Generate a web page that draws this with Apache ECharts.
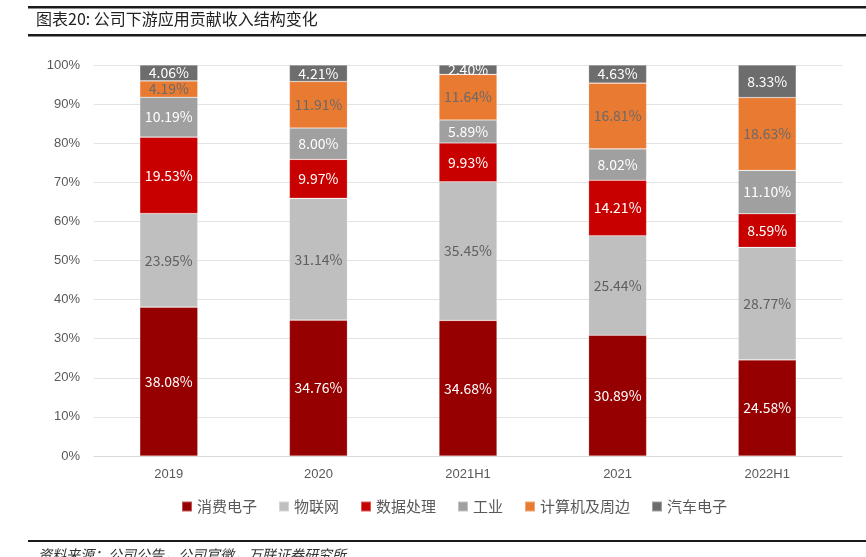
<!DOCTYPE html>
<html><head><meta charset="utf-8">
<script src="https://cdn.jsdelivr.net/npm/echarts@6/dist/echarts.min.js"></script>
<style>html,body{margin:0;padding:0;background:#fff}#c{width:866px;height:557px}</style>
</head><body><div id="c"></div>
<script>
var categories = ['2019', '2020', '2021H1', '2021', '2022H1'];
var seriesNames = ['消费电子', '物联网', '数据处理', '工业', '计算机及周边', '汽车电子'];
var consumer = [38.08, 34.76, 34.68, 30.89, 24.58];
var iot = [23.95, 31.14, 35.45, 25.44, 28.77];
var dataProc = [19.53, 9.97, 9.93, 14.21, 8.59];
var industry = [10.19, 8.00, 5.89, 8.02, 11.10];
var computer = [4.19, 11.91, 11.64, 16.81, 18.63];
var auto = [4.06, 4.21, 2.40, 4.63, 8.33];
var yTicks = [0, 10, 20, 30, 40, 50, 60, 70, 80, 90, 100];

var values = [consumer, iot, dataProc, industry, computer, auto];
var colors = ['#960000', '#BFBFBF', '#C80000', '#A0A0A0', '#E97A32', '#6D6D6D'];
var labelColors = ['#ffffff', '#5f5f5f', '#ffffff', '#ffffff', '#6a6a6a', '#ffffff'];
var cjk = '"Noto Sans CJK SC", sans-serif';

var chart = echarts.init(document.getElementById('c'));
var series = seriesNames.map(function (n, i) {
  return {
    name: n, type: 'bar', stack: 'total', barWidth: 58,
    data: values[i],
    itemStyle: { color: colors[i], borderColor: 'rgba(255,255,255,0.35)', borderWidth: 0.6 },
    label: {
      show: true, position: 'inside', color: labelColors[i],
      fontFamily: cjk, fontSize: 14,
      formatter: function (p) { return p.value.toFixed(2) + '%'; }
    }
  };
});

chart.setOption({
  animation: false,
  color: colors,
  grid: { left: 94, right: 24, top: 65, bottom: 101 },
  legend: {
    data: seriesNames, top: 494, left: 176,
    itemWidth: 10, itemHeight: 10, itemGap: 21, icon: 'rect',
    textStyle: { fontFamily: cjk, fontSize: 15, color: '#595959' }
  },
  xAxis: {
    type: 'category', data: categories,
    axisLine: { lineStyle: { color: '#D9D9D9' } },
    axisTick: { show: false },
    axisLabel: { color: '#595959', fontFamily: 'Liberation Sans', fontSize: 13, margin: 12 }
  },
  yAxis: {
    type: 'value', min: yTicks[0], max: yTicks[yTicks.length - 1], interval: 10,
    axisLine: { show: false }, axisTick: { show: false },
    splitLine: { lineStyle: { color: '#E3E3E3' } },
    axisLabel: { color: '#595959', fontFamily: 'Liberation Sans', fontSize: 13, margin: 14,
      formatter: function (v) { return v + '%'; } }
  },
  series: series,
  graphic: [
    { type: 'rect', shape: { x: 28, y: 6, width: 838, height: 2.5 }, style: { fill: '#1a1a1a' } },
    { type: 'text', left: 36, top: 11, style: { text: '图表20: 公司下游应用贡献收入结构变化', font: '16px "Noto Sans CJK SC"', fill: '#222' } },
    { type: 'rect', shape: { x: 28, y: 34, width: 838, height: 2.5 }, style: { fill: '#1a1a1a' } },
    { type: 'rect', shape: { x: 28, y: 540, width: 838, height: 2 }, style: { fill: '#1a1a1a' } },
    { type: 'text', left: 38, top: 548, style: { text: '资料来源：公司公告，公司官微，万联证券研究所', font: 'italic 14px "Noto Sans CJK SC"', fill: '#333' } }
  ]
});
</script></body></html>
